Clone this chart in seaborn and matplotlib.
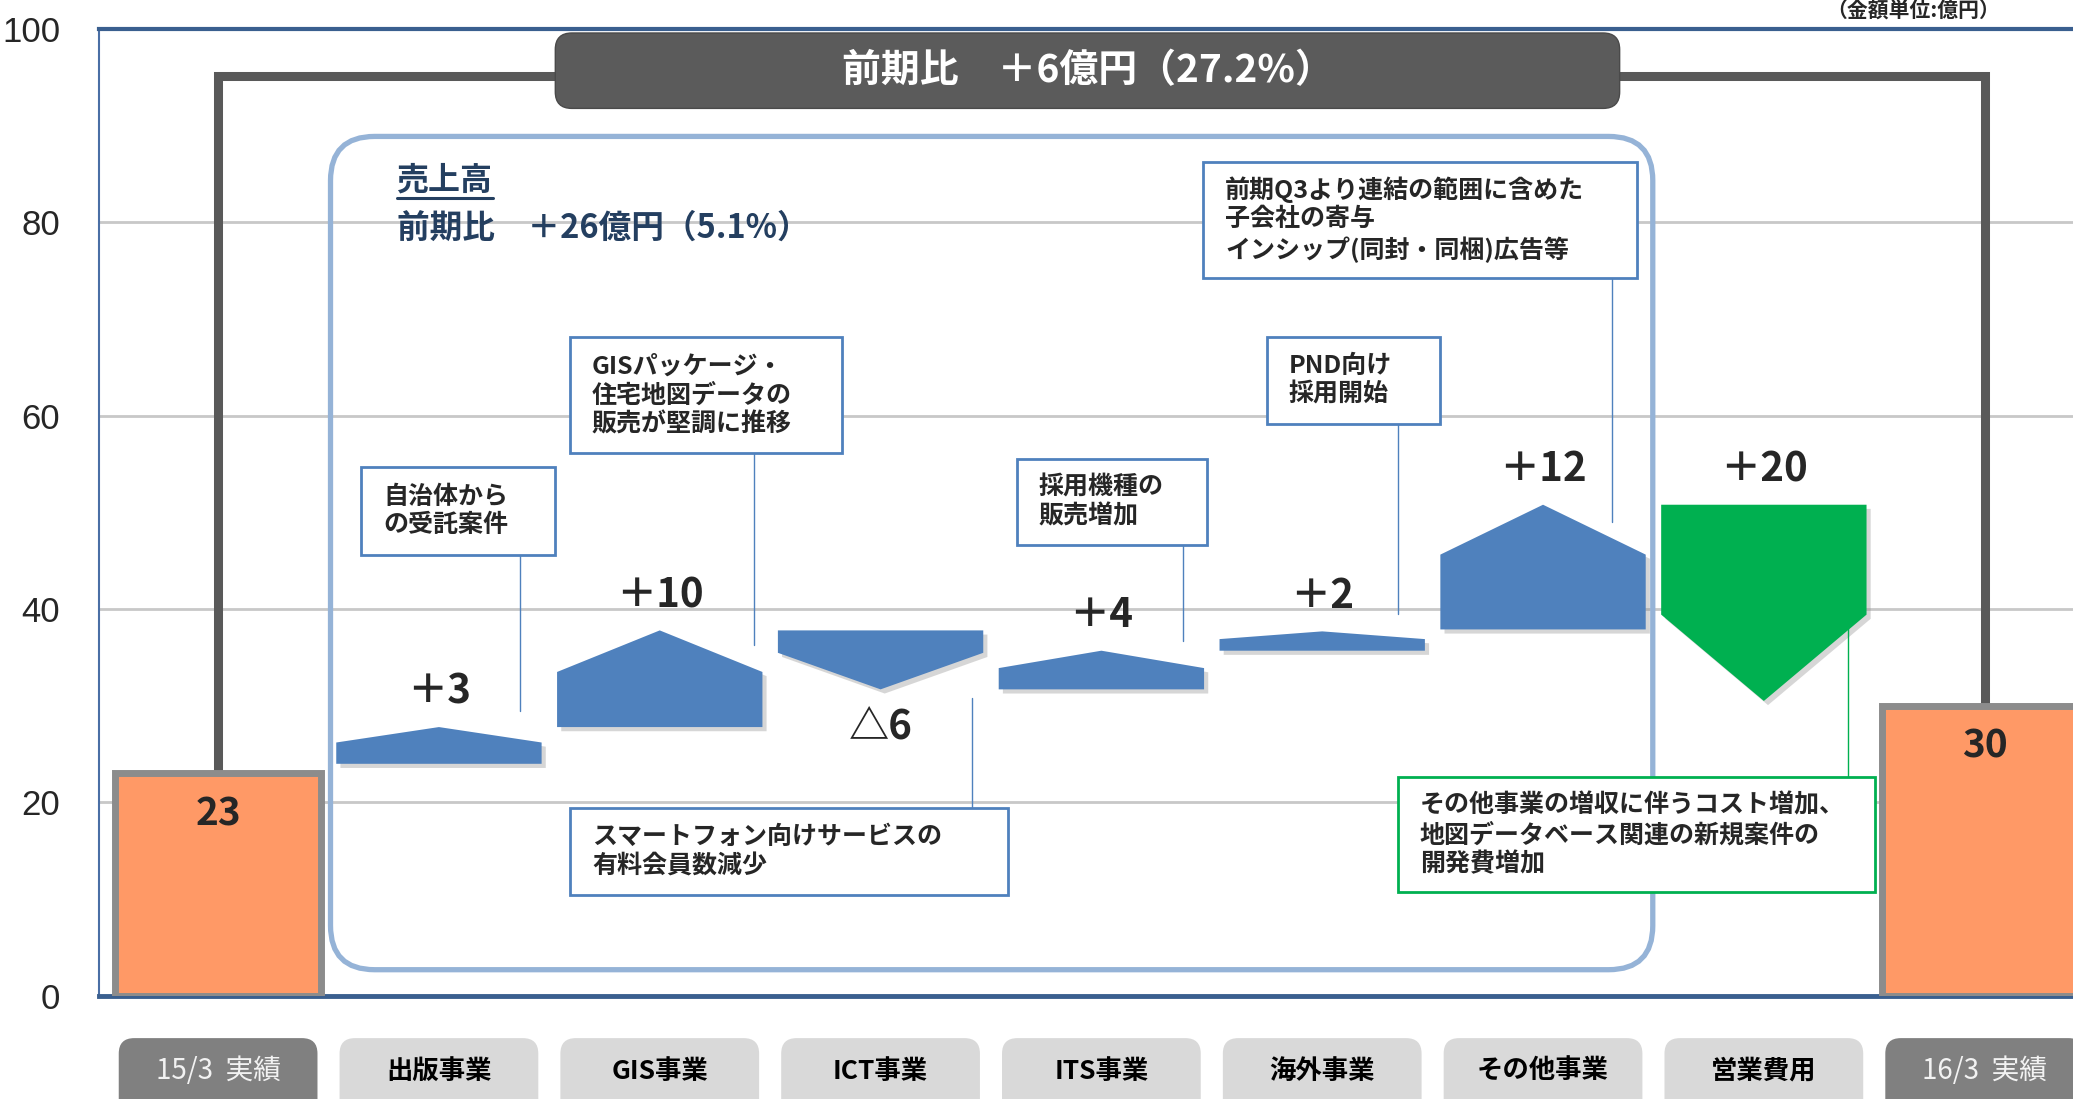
import matplotlib
matplotlib.use('Agg')
import matplotlib.pyplot as plt
import matplotlib.patheffects as pe
from matplotlib.patches import FancyBboxPatch, Polygon, Rectangle
from matplotlib.transforms import blended_transform_factory
from matplotlib import font_manager
import seaborn as sns

# categories on the x axis
categories = ['15/3  実績', '出版事業', 'GIS事業', 'ICT事業', 'ITS事業',
              '海外事業', 'その他事業', '営業費用', '16/3  実績']

# actual results (bars at both ends)
actual_cats = ['15/3  実績', '16/3  実績']
actual_vals = [23, 30]

# changes (as placed in the picture)
step_cats = ['出版事業', 'GIS事業', 'ICT事業', 'ITS事業', '海外事業', 'その他事業', '営業費用']
step_from = [24.0, 27.8, 37.8, 31.7, 35.7, 37.9, 50.8]
step_to = [27.8, 37.8, 31.7, 35.7, 37.7, 50.8, 30.5]
step_labels = ['＋3', '＋10', '△6', '＋4', '＋2', '＋12', '＋20']

# style of the arrow shapes
head_frac = [0.42, 0.43, 0.62, 0.45, 0.40, 0.40, 0.44]
step_colors = ['#4f81bd'] * 6 + ['#00b050']
label_side = ['above', 'above', 'below', 'above', 'above', 'above', 'above']

sns.set_style('white')
plt.rcParams['font.family'] = ['Noto Sans CJK JP', 'DejaVu Sans']
names = {f.name for f in font_manager.fontManager.ttflist}
num_font = 'Liberation Sans Narrow' if 'Liberation Sans Narrow' in names else 'Liberation Sans'

W, H = 2073, 1099
fig = plt.figure(figsize=(W / 100, H / 100), dpi=100)
ax = fig.add_axes([0.0478, 0.0939, 0.9522, 0.8796])

# start / end bars
sns.barplot(x=actual_cats, y=actual_vals, order=categories, color='#ff9966',
            saturation=1, width=0.93, edgecolor='#8c8c8c', linewidth=5,
            ax=ax, zorder=3)

ax.set_xlim(-0.539, 8.40)
ax.set_ylim(0, 100)
ax.set_xlabel('')
ax.set_ylabel('')

pos = {c: i for i, c in enumerate(categories)}
p0 = ax.transData.transform((0, 0))
p1 = ax.transData.transform((1, 1))
sx, sy = p1[0] - p0[0], p1[1] - p0[1]
asp = sx / sy

# value text inside the end bars
for c, v in zip(actual_cats, actual_vals):
    ax.text(pos[c], v - 4.2, str(v), ha='center', va='center', fontsize=28,
            fontweight='bold', zorder=5)

# arrow shapes for changes
hw = 0.93 / 2
for k, c in enumerate(step_cats):
    x = pos[c]
    a, b = step_from[k], step_to[k]
    shoulder = b - (b - a) * head_frac[k]
    poly = Polygon([(x - hw, a), (x + hw, a), (x + hw, shoulder), (x, b), (x - hw, shoulder)],
                   closed=True, fc=step_colors[k], ec='none', zorder=3,
                   path_effects=[pe.SimplePatchShadow(offset=(3, -3), shadow_rgbFace='#8c8c8c', alpha=0.35),
                                 pe.Normal()])
    ax.add_patch(poly)
    if label_side[k] == 'above':
        ly = max(a, b) + 3.6
    else:
        ly = min(a, b) - 3.9
    ax.text(x, ly, step_labels[k], ha='center', va='center', fontsize=29,
            fontweight='bold', zorder=5)

# overall connector line
ax.plot([pos[actual_cats[0]]] * 2 + [pos[actual_cats[1]]] * 2,
        [actual_vals[0], 95.2, 95.2, actual_vals[1]],
        color='#595959', lw=6.5, solid_joinstyle='miter', zorder=2)

# title box
ax.add_patch(FancyBboxPatch((1.527, 91.8), 4.82, 7.8,
                            boxstyle='round,pad=0,rounding_size=0.075', mutation_aspect=asp,
                            fc='#5b5b5b', ec='#4a4a4a', lw=1, zorder=4))
ax.text(3.937, 95.7, '前期比　＋6億円（27.2%）', ha='center', va='center',
        fontsize=28, fontweight='bold', color='white', zorder=5)

# sales group frame
ax.add_patch(FancyBboxPatch((0.509, 2.7), 5.988, 86.2,
                            boxstyle='round,pad=0,rounding_size=0.2', mutation_aspect=asp,
                            fc='none', ec='#95b3d7', lw=3.8, zorder=2.2))
t = ax.text(0.808, 84.3, '売上高', ha='left', va='center', fontsize=23,
            fontweight='bold', color='#243f60', zorder=5)
ax.text(0.808, 79.4, '前期比　＋26億円（5.1%）', ha='left', va='center', fontsize=23.5,
        fontweight='bold', color='#243f60', zorder=5)

# callouts
callouts = [
    ((0.647, 1.527, 45.6, 54.7), '自治体から\nの受託案件', (1.365, 45.6, 29.5), '#4f81bd'),
    ((1.593, 2.826, 56.1, 68.1), 'GISパッケージ・\n住宅地図データの\n販売が堅調に推移', (2.425, 56.1, 36.3), '#4f81bd'),
    ((1.593, 3.575, 10.4, 19.4), 'スマートフォン向けサービスの\n有料会員数減少', (3.413, 19.4, 30.8), '#4f81bd'),
    ((3.617, 4.479, 46.6, 55.5), '採用機種の\n販売増加', (4.371, 46.6, 36.7), '#4f81bd'),
    ((4.749, 5.533, 59.2, 68.1), 'PND向け\n採用開始', (5.341, 59.2, 39.5), '#4f81bd'),
    ((4.461, 6.425, 74.3, 86.3), '前期Q3より連結の範囲に含めた\n子会社の寄与\nインシップ(同封・同梱)広告等',
     (6.311, 74.3, 49.0), '#4f81bd'),
    ((5.341, 7.503, 10.7, 22.6), 'その他事業の増収に伴うコスト増加、\n地図データベース関連の新規案件の\n開発費増加',
     (7.383, 22.6, 39.4), '#00b050'),
]
for (x0, x1, y0, y1), txt, (lx, ly0, ly1), col in callouts:
    ax.add_patch(Rectangle((x0, y0), x1 - x0, y1 - y0, fc='white', ec=col, lw=2, zorder=6))
    ax.text(x0 + 0.1, (y0 + y1) / 2, txt, ha='left', va='center', fontsize=18,
            fontweight='bold', linespacing=1.25, zorder=7)
    ax.plot([lx, lx], [ly0, ly1], color=col, lw=1, zorder=5.5)

# axes styling
ax.set_yticks([0, 20, 40, 60, 80, 100])
ax.yaxis.grid(True, color='#c8c8c8', lw=2)
ax.xaxis.grid(False)
ax.set_axisbelow(True)
ax.tick_params(axis='y', length=0, pad=28)
for lbl in ax.get_yticklabels():
    lbl.set_fontfamily(num_font)
    lbl.set_fontsize(25)
ax.spines['right'].set_visible(False)
ax.spines['top'].set_color('#3a5f8f')
ax.spines['top'].set_linewidth(3)
ax.spines['bottom'].set_color('#3a5f8f')
ax.spines['bottom'].set_linewidth(3.5)
ax.spines['left'].set_color('#4a6fa5')
ax.spines['left'].set_linewidth(1.5)

# category labels in rounded boxes
ax.set_xticks(range(len(categories)), categories)
ax.tick_params(axis='x', length=0, pad=54.3)
btf = blended_transform_factory(ax.transData, fig.transFigure)
for i, lbl in enumerate(ax.get_xticklabels()):
    end = categories[i] in actual_cats
    lbl.set_va('center')
    lbl.set_fontsize(20 if end else 19)
    lbl.set_fontweight('normal' if end else 'bold')
    lbl.set_color('#f2f2f2' if end else 'black')
    ax.add_patch(FancyBboxPatch((i - 0.45, -0.05), 0.9, 0.1054,
                                boxstyle='round,pad=0,rounding_size=0.07', mutation_aspect=sx / H,
                                transform=btf, clip_on=False, ec='none',
                                fc='#808080' if end else '#d9d9d9', zorder=0.1))

fig.text(0.923, 0.9995, '（金額単位:億円）', ha='center', va='top',
         fontsize=15, fontweight='bold')

# underline for the heading
fig.canvas.draw()
bb = t.get_window_extent()
inv = ax.transData.inverted()
ux0, uy = inv.transform((bb.x0, bb.y0 - 1))
ux1, _ = inv.transform((bb.x1, bb.y0 - 1))
ax.plot([ux0, ux1], [uy, uy], color='#243f60', lw=2.2, zorder=5)

fig.savefig('out.png', dpi=100)
